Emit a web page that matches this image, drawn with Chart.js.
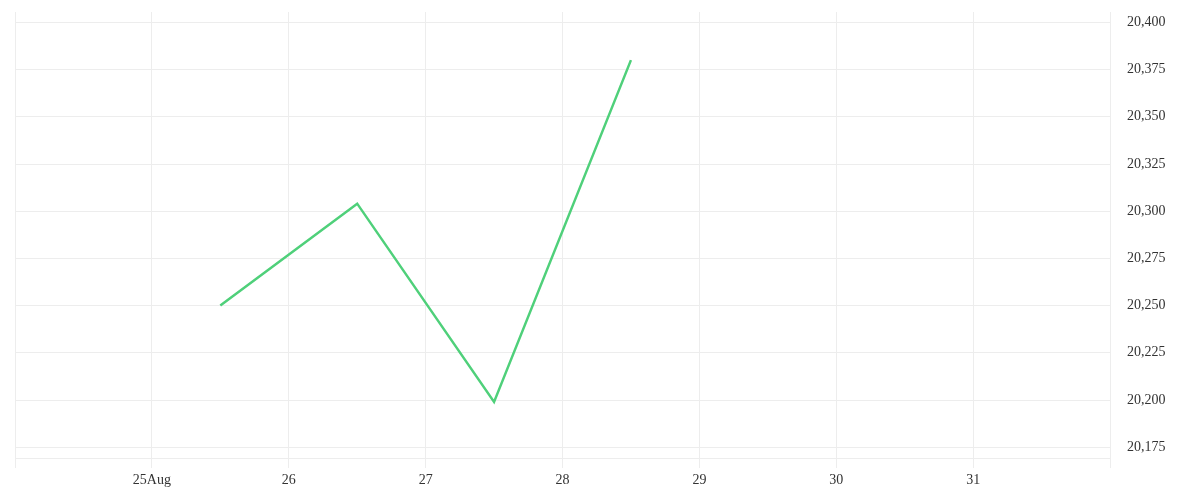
<!DOCTYPE html>
<html>
<head>
<meta charset="utf-8">
<script src="https://cdn.jsdelivr.net/npm/chart.js@4.4.0/dist/chart.umd.min.js"></script>
<style>
  html, body { margin: 0; padding: 0; background: #fff; }
  #wrap { width: 1200px; height: 500px; }
</style>
</head>
<body>
<div id="wrap"><canvas id="priceChart"></canvas></div>
<script>
// day of month (Aug), price
const days = [25.5, 26.5, 27.5, 28.5];
const prices = [20250, 20304, 20199, 20380];
// y axis tick values
const priceTicks = [20175, 20200, 20225, 20250, 20275, 20300, 20325, 20350, 20375, 20400];
// x axis ticks, 24 and 32 (Sep 1) sit on the edges without text
const dayTicks = [24, 25, 26, 27, 28, 29, 30, 31, 32];
const dayLabels = ['', '25Aug', '26', '27', '28', '29', '30', '31', ''];

document.addEventListener('DOMContentLoaded', function() {
    const ctx = document.getElementById('priceChart').getContext('2d');
    const gridColor = '#ededed';
    const tickFont = { family: 'Liberation Serif', size: 14 };

    new Chart(ctx, {
        type: 'line',
        data: {
            datasets: [{
                data: days.map((d, i) => ({ x: d, y: prices[i] })),
                borderColor: '#4fd07a',
                borderWidth: 2.5,
                pointRadius: 0,
                tension: 0,
                fill: false
            }]
        },
        options: {
            responsive: true,
            maintainAspectRatio: false,
            animation: false,
            layout: { padding: { top: 0, left: 15, right: 0, bottom: 0 } },
            plugins: {
                legend: { display: false },
                tooltip: { enabled: false }
            },
            scales: {
                x: {
                    type: 'linear',
                    min: 24,
                    max: 32,
                    grid: { color: gridColor, tickLength: 10 },
                    border: { color: gridColor },
                    ticks: {
                        color: '#333',
                        font: tickFont,
                        padding: 4,
                        maxRotation: 0,
                        autoSkip: false,
                        callback: function(value) {
                            const i = dayTicks.indexOf(value);
                            return i >= 0 ? dayLabels[i] : '';
                        }
                    },
                    afterBuildTicks: function(axis) {
                        axis.ticks = dayTicks.map(v => ({ value: v }));
                    },
                    afterFit: function(axis) { axis.height = 42; }
                },
                y: {
                    position: 'right',
                    min: 20169.3,
                    max: 20405.5,
                    grid: { color: gridColor, drawTicks: false },
                    border: { color: gridColor },
                    ticks: {
                        color: '#333',
                        font: tickFont,
                        padding: 17,
                        autoSkip: false,
                        callback: function(value) {
                            return value.toLocaleString('en-US');
                        }
                    },
                    afterBuildTicks: function(axis) {
                        axis.ticks = priceTicks.map(v => ({ value: v }));
                    },
                    afterFit: function(axis) {
                        axis.width = 90;
                        axis.paddingTop = 12;
                        axis.paddingBottom = 0;
                    }
                }
            }
        }
    });
});
</script>
</body>
</html>
